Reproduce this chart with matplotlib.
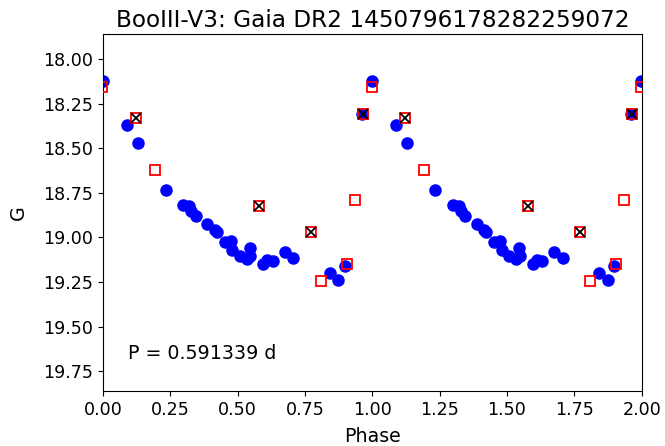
import numpy as np
import matplotlib
matplotlib.use("Agg")
import matplotlib.pyplot as plt

title = "BooIII-V3: Gaia DR2 1450796178282259072"
period_text = "P = 0.591339 d"

# good measurements (blue circles)
phase_good = [0.999, 0.088, 0.129, 0.233, 0.298, 0.320, 0.328, 0.345, 0.387,
              0.416, 0.422, 0.453, 0.474, 0.480, 0.508, 0.533, 0.545, 0.547,
              0.595, 0.610, 0.630, 0.674, 0.706, 0.841, 0.873, 0.898, 0.962]
mag_good = [18.125, 18.372, 18.471, 18.732, 18.816, 18.826, 18.854, 18.882, 18.924,
            18.960, 18.969, 19.025, 19.022, 19.068, 19.106, 19.119, 19.059, 19.102,
            19.148, 19.124, 19.134, 19.083, 19.115, 19.199, 19.236, 19.162, 18.306]

# rejected measurements (red open squares)
phase_rej = [0.997, 0.121, 0.193, 0.579, 0.771, 0.809, 0.904, 0.935, 0.965]
mag_rej = [18.159, 18.330, 18.624, 18.825, 18.970, 19.246, 19.150, 18.790, 18.306]
flag_x = [False, True, False, True, True, False, False, False, True]

fig = plt.figure(figsize=(6.65, 4.46), dpi=100)
ax = fig.add_axes([0.155, 0.1233, 0.81, 0.8005])

pg = np.array(phase_good); mg = np.array(mag_good)
pr = np.array(phase_rej); mr = np.array(mag_rej)
fx = np.array(flag_x)

for off in (-1, 0, 1):
    ax.plot(pg + off, mg, 'o', color='blue', ms=8, zorder=2)
for off in (-1, 0, 1):
    ax.plot(pr + off, mr, 's', mfc='none', mec='red', ms=7, mew=1.3, zorder=3)
for off in (-1, 0, 1):
    ax.plot(pr[fx] + off, mr[fx], 'x', color='black', ms=6.5, mew=1.3, zorder=4)

ax.set_xlim(0, 2)
ax.set_ylim(19.86, 17.86)
ax.set_xticks([0, 0.25, 0.5, 0.75, 1.0, 1.25, 1.5, 1.75, 2.0])
ax.set_yticks([18.0, 18.25, 18.5, 18.75, 19.0, 19.25, 19.5, 19.75])
ax.xaxis.set_major_formatter(matplotlib.ticker.FormatStrFormatter('%.2f'))
ax.yaxis.set_major_formatter(matplotlib.ticker.FormatStrFormatter('%.2f'))
ax.tick_params(labelsize=12.6, length=3.7)
ax.set_xlabel("Phase", fontsize=13.7, labelpad=6)
ax.set_ylabel("G", fontsize=13.7, labelpad=11)
ax.set_title(title, fontsize=16.7, pad=5)
ax.text(0.046, 0.106, period_text, transform=ax.transAxes, fontsize=13.7, va='center')

fig.savefig("out.png", dpi=100)
